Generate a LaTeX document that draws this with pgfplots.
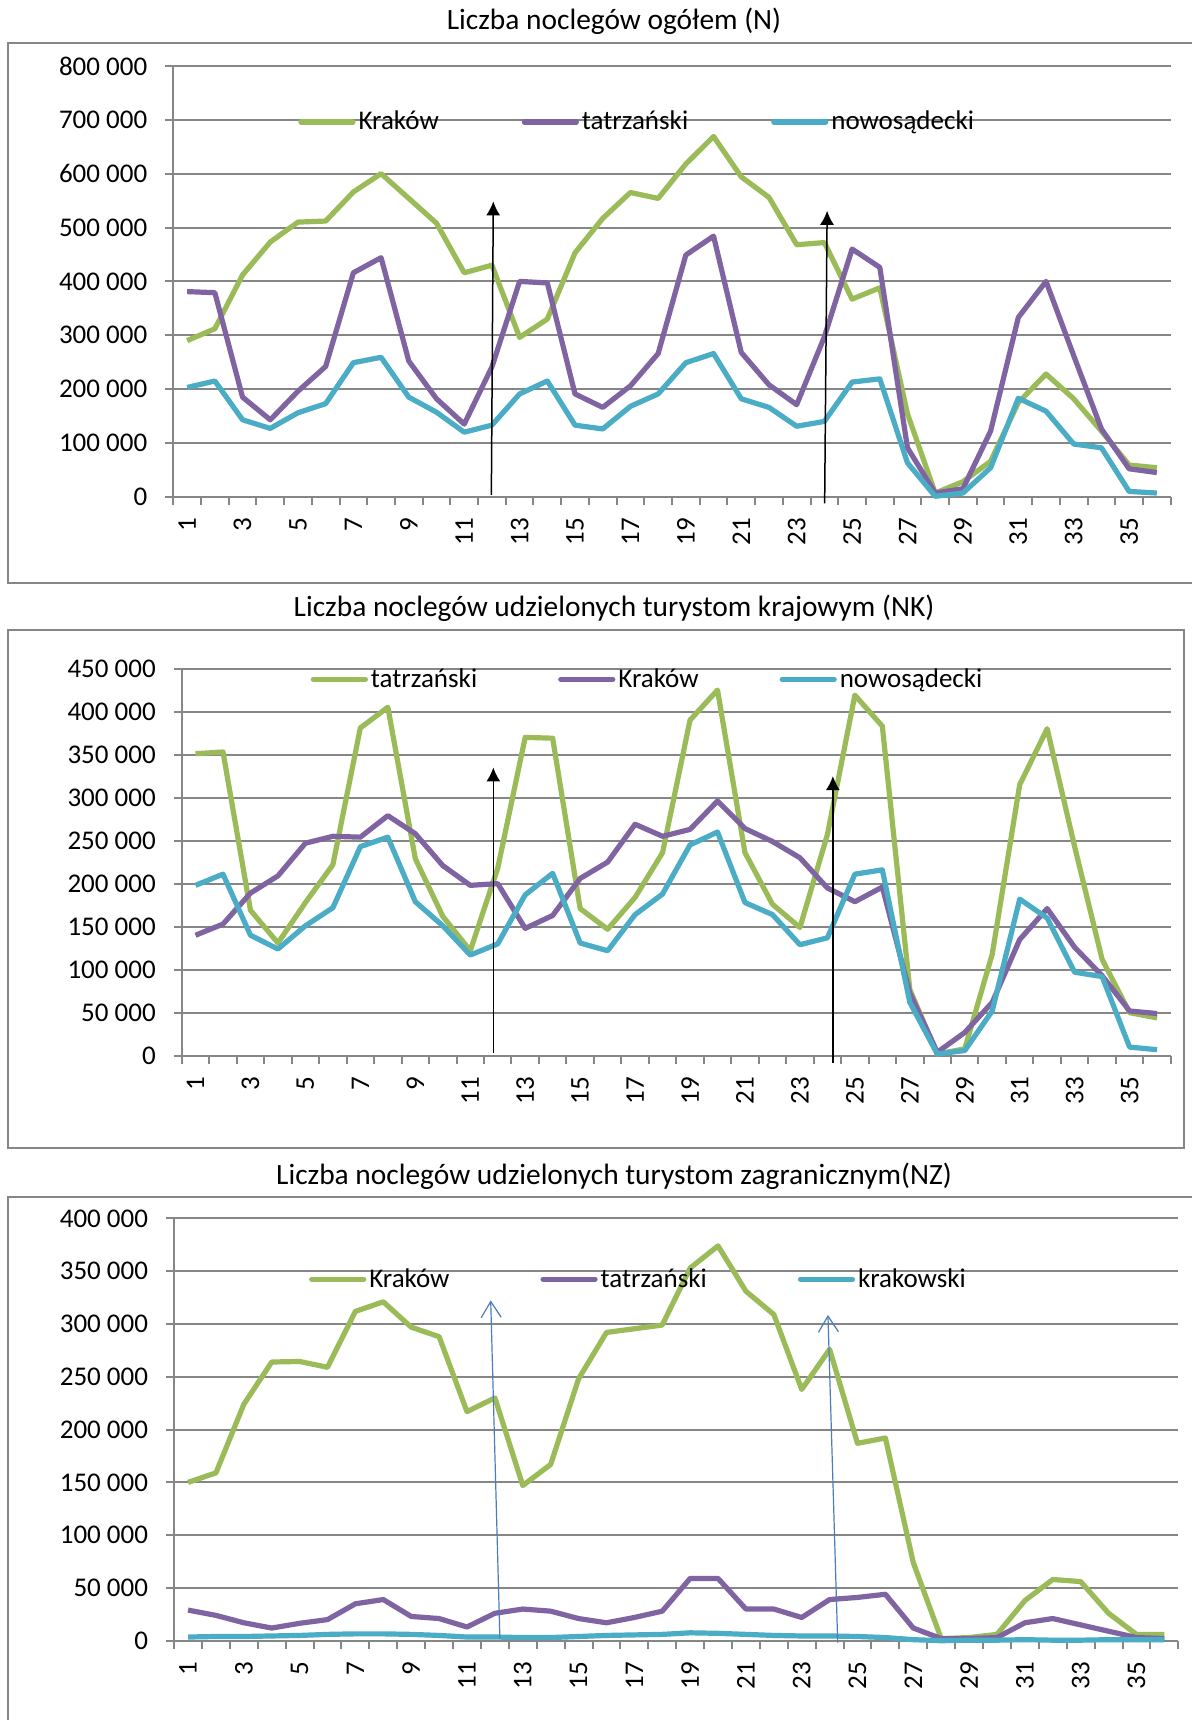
\documentclass[border=0pt]{standalone}
\usepackage{fontspec}
\setmainfont{Carlito}
\usepackage{pgfplots}
\usepackage{pgfplotstable}
\pgfplotsset{compat=1.18}
\usetikzlibrary{arrows.meta}

\definecolor{xlgreen}{HTML}{9BBB59}
\definecolor{xlpurple}{HTML}{8064A2}
\definecolor{xlcyan}{HTML}{4BACC6}
\definecolor{xlgray}{HTML}{868686}
\definecolor{xlblue}{HTML}{4A7EBB}

% N: Krakow, tatrzanski, nowosadecki
\pgfplotstableread{
x a b c
1 290000 381000 203000
2 312000 379000 215000
3 412000 185000 143000
4 473000 143000 127000
5 510000 196000 156000
6 512000 242000 173000
7 566000 416000 249000
8 600000 444000 259000
9 554000 252000 185000
10 508000 182000 157000
11 416000 135000 120000
12 430000 241000 133000
13 296000 400000 191000
14 330000 397000 215000
15 453000 191000 133000
16 517000 166000 126000
17 565000 206000 168000
18 554000 266000 191000
19 618000 449000 249000
20 669000 484000 266000
21 594000 268000 182000
22 556000 208000 166000
23 468000 171000 131000
24 472000 297000 140000
25 367000 460000 213000
26 388000 426000 219000
27 154000 91000 63000
28 7000 7000 1000
29 28000 15000 7000
30 66000 122000 54000
31 175000 333000 183000
32 228000 400000 159000
33 182000 262000 98000
34 122000 126000 91000
35 59000 52000 10000
36 54000 45000 7000
}\tabN

% NK: tatrzanski, Krakow, nowosadecki
\pgfplotstableread{
x a b c
1 351000 140000 198000
2 353000 153000 211000
3 169000 189000 140000
4 131000 209000 124000
5 178000 247000 151000
6 222000 255000 172000
7 381000 254000 243000
8 405000 279000 254000
9 229000 258000 179000
10 162000 221000 151000
11 122000 198000 117000
12 218000 200000 130000
13 370000 148000 187000
14 369000 163000 212000
15 171000 206000 131000
16 147000 225000 122000
17 184000 269000 164000
18 236000 255000 188000
19 390000 263000 245000
20 425000 296000 260000
21 236000 264000 178000
22 176000 249000 164000
23 149000 230000 129000
24 257000 195000 137000
25 419000 179000 211000
26 383000 196000 216000
27 77000 73000 62000
28 2000 4000 2000
29 8000 27000 6000
30 118000 62000 52000
31 315000 135000 182000
32 380000 171000 160000
33 243000 126000 97000
34 112000 93000 92000
35 50000 52000 10000
36 44000 49000 7000
}\tabNK

% NZ: Krakow, tatrzanski, krakowski
\pgfplotstableread{
x a b c
1 150000 29000 3500
2 159000 24000 4000
3 224000 17000 4000
4 264000 12000 4500
5 264500 16500 5000
6 259000 20000 6000
7 312000 35000 6500
8 321000 39000 6500
9 297000 23000 6000
10 288000 21000 5000
11 217000 13000 3500
12 230000 26000 3500
13 147000 30000 3000
14 167000 28000 3000
15 248000 21000 4000
16 292000 17000 5000
17 295500 22000 5500
18 299000 28000 6000
19 353000 59000 7500
20 374000 59000 7000
21 331000 30000 6000
22 309000 30000 5000
23 238000 22000 4500
24 276000 39000 4500
25 187000 41000 4000
26 192000 44000 3000
27 74000 12000 1000
28 2000 2000 0
29 3000 2000 500
30 6000 3000 500
31 38000 17000 1000
32 58000 21000 500
33 56000 15000 500
34 26000 9000 1000
35 6000 3000 1000
36 6000 2000 1000
}\tabNZ

\pgfplotsset{
  xlchart/.style={
    scale only axis, clip=false, anchor=south west,
    axis lines*=left, axis line style={xlgray, line width=1pt, -},
    xmin=0.5, xmax=36.5, ymin=0,
    xtick={1,3,...,35}, minor xtick={0.5,1.5,...,36.5},
    tick align=outside, major tick length=4pt, minor tick length=4pt,
    every tick/.style={xlgray, line width=1pt},
    major x tick style={draw=none},
    ymajorgrids, grid style={xlgray, line width=1pt},
    scaled y ticks=false,
    /pgf/number format/fixed,
    /pgf/number format/assume math mode=true,
    /pgf/number format/1000 sep={\ },
    tick label style={font=\fontsize{13.5}{16}\selectfont, black},
    yticklabel style={xshift=-5.5pt},
    xticklabel style={yshift=-3pt, rotate=90, anchor=east},
    legend columns=3,
    legend style={draw=none, fill=none, inner sep=0pt,
      font=\fontsize{13.5}{16}\selectfont,
      nodes={inner sep=1.5pt}},
    legend image code/.code={\draw[##1, line cap=round] (0pt,0pt) -- (26pt,0pt);},
    every axis plot/.append style={line width=2.6pt, line join=round},
  }
}

\begin{document}
\begin{tikzpicture}
\useasboundingbox (0pt,0pt) rectangle (595.5pt,-860pt);
\fill[white] (0pt,0pt) rectangle (595.5pt,-860pt);

% frames
\draw[xlgray, line width=1pt] (3.85pt,-21.65pt) rectangle (600pt,-291.65pt);
\draw[xlgray, line width=1pt] (4pt,-315pt) rectangle (592pt,-574pt);
\draw[xlgray, line width=1pt] (4pt,-598.5pt) rectangle (600pt,-866pt);

% titles
\node[font=\fontsize{14.7}{17}\selectfont] at (307pt,-10.5pt) {Liczba noclegów ogółem (N)};
\node[font=\fontsize{14.7}{17}\selectfont] at (307pt,-304.3pt) {Liczba noclegów udzielonych turystom krajowym (NK)};
\node[font=\fontsize{14.7}{17}\selectfont] at (307pt,-588pt) {Liczba noclegów udzielonych turystom zagranicznym(NZ)};

% chart 1
\begin{axis}[xlchart, at={(86.65pt,-248.4pt)}, width=498.7pt, height=215.45pt,
  ymax=800000, ytick distance=100000,
  legend style={at={(0.125,0.87)}, anchor=west,
    /tikz/every even column/.append style={column sep=40pt}}]
\addplot[xlgreen] table[x=x, y=a] {\tabN};
\addlegendentry{Kraków}
\addplot[xlpurple] table[x=x, y=b] {\tabN};
\addlegendentry{tatrzański}
\addplot[xlcyan] table[x=x, y=c] {\tabN};
\addlegendentry{nowosądecki}
\addplot[black, line width=0.75pt, -{Latex[length=7pt,width=7pt]}, forget plot]
  coordinates {(11.98,3500) (12.05,548600)};
\addplot[black, line width=0.75pt, -{Latex[length=7pt,width=7pt]}, forget plot]
  coordinates {(24.01,-12000) (24.1,531000)};
\end{axis}

% chart 2
\begin{axis}[xlchart, at={(90.9pt,-527.85pt)}, width=494.5pt, height=193.6pt,
  ymax=450000, ytick distance=50000,
  legend style={at={(0.130,0.972)}, anchor=west,
    /tikz/every even column/.append style={column sep=39pt}}]
\addplot[xlgreen] table[x=x, y=a] {\tabNK};
\addlegendentry{tatrzański}
\addplot[xlpurple] table[x=x, y=b] {\tabNK};
\addlegendentry{Kraków}
\addplot[xlcyan] table[x=x, y=c] {\tabNK};
\addlegendentry{nowosądecki}
\addplot[black, line width=0.75pt, -{Latex[length=7pt,width=7pt]}, forget plot]
  coordinates {(11.84,2900) (11.84,335000)};
\addplot[black, line width=0.75pt, -{Latex[length=7pt,width=7pt]}, forget plot]
  coordinates {(24.2,-8300) (24.2,325000)};
\end{axis}

% chart 3
\begin{axis}[xlchart, at={(87.05pt,-820.35pt)}, width=502.1pt, height=211.15pt,
  ymax=400000, ytick distance=50000,
  legend style={at={(0.134,0.856)}, anchor=west,
    /tikz/every even column/.append style={column sep=44pt}}]
\addplot[xlgreen] table[x=x, y=a] {\tabNZ};
\addlegendentry{Kraków}
\addplot[xlpurple] table[x=x, y=b] {\tabNZ};
\addlegendentry{tatrzański}
\addplot[xlcyan] table[x=x, y=c] {\tabNZ};
\addlegendentry{krakowski}
\addplot[xlblue, line width=0.6pt, -{Straight Barb[length=8pt,width=10pt]}, forget plot]
  coordinates {(12.18,1700) (11.85,322400)};
\addplot[xlblue, line width=0.6pt, -{Straight Barb[length=8pt,width=10pt]}, forget plot]
  coordinates {(24.29,-1700) (23.94,308600)};
\end{axis}
\end{tikzpicture}
\end{document}
